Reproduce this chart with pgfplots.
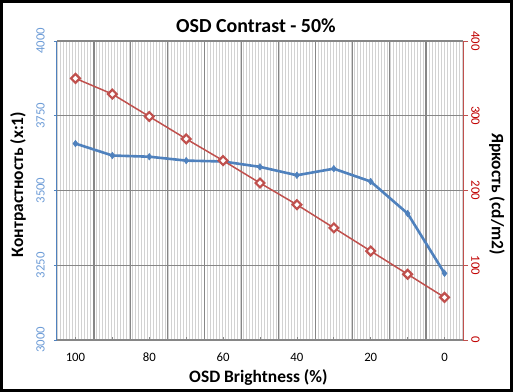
\documentclass[border=0pt]{standalone}
\usepackage{pgfplots}
\pgfplotsset{compat=1.18}
\usepackage{fontspec}
\setmainfont{Carlito}
\usetikzlibrary{patterns.meta,calc}
\definecolor{cblue}{HTML}{4F81BD}
\definecolor{cred}{HTML}{C0504D}
\definecolor{lblue}{HTML}{6C9BD6}
\definecolor{lred}{HTML}{C00000}
\definecolor{gridgray}{HTML}{868686}
\definecolor{hatch}{HTML}{D2D2D2}

\pgfplotstableread{
x contrast
100 3657
90 3617
80 3613
70 3600
60 3597
50 3579
40 3551
30 3573
20 3530
10 3423
0 3223
}\contrasttable

\pgfplotstableread{
x lum
100 350
90 329
80 299
70 269
60 240
50 210
40 181
30 150
20 119
10 88
0 57
}\lumtable

\begin{document}
\begin{tikzpicture}
\pgfplotsset{
  common/.style={
    scale only axis, width=406bp, height=299bp,
    x dir=reverse, xmin=-5, xmax=105,
    /pgf/number format/assume math mode=true,
    /pgf/number format/1000 sep={},
    tick label style={font=\fontsize{12.8}{14}\selectfont},
    label style={font=\fontsize{17.5}{20}\selectfont\bfseries},
  }
}
\begin{axis}[common, name=ax1,
  axis background/.style={pattern={Lines[angle=90,distance=3bp,line width=0.9bp]}, pattern color=hatch},
  ymin=3000, ymax=4000, ytick={3000,3250,...,4000},
  xtick={0,10,...,100}, xticklabels={0,,20,,40,,60,,80,,100},
  xticklabel style={anchor=center, yshift=-17.5bp, text=black},
  extra x ticks={5,15,...,95}, extra x tick labels={},
  extra x tick style={grid=major, major tick length=0pt},
  ymajorgrids, grid style={gridgray, line width=1.2bp},
  axis y line*=left, axis x line*=bottom,
  x axis line style={-, gridgray, line width=1.2bp},
  y axis line style={-, cblue, line width=1bp},
  xtick style={gridgray, line width=0.8bp},
  ytick style={cblue, line width=0.8bp},
  major tick length=3bp,
  ytick align=outside, xtick align=inside,
  yticklabel style={xshift=-13.5bp, rotate=90, anchor=center, text=lblue},
  title={OSD Contrast - 50\%},
  every axis title/.style={at={(axis description cs:0.49,1)}, anchor=base, yshift=8bp, font=\fontsize{20}{24}\selectfont\bfseries},
  xlabel={OSD Brightness (\%)},
  xlabel style={at={(axis description cs:0.496,-0.127)}, anchor=center},
  ylabel={Контрастность (x:1)},
  ylabel style={at={(axis description cs:-0.096,0.52)}, anchor=center, rotate=0},
]
\addplot[cblue, line width=2.6bp, mark=diamond*, mark size=3.3bp, mark options={fill=cblue, line width=0.5bp}] table[x=x, y=contrast] {\contrasttable};
\end{axis}
\begin{axis}[common,
  axis x line=none, axis y line*=right,
  ymin=0, ymax=400, ytick={0,100,...,400},
  y axis line style={-, cred, line width=1bp},
  ytick style={cred, line width=0.8bp},
  major tick length=5bp, ytick align=outside,
  yticklabel style={xshift=7.5bp, rotate=-90, anchor=center, text=lred},
  ylabel={Яркость (cd/m2)},
  ylabel style={at={(axis description cs:1.0837,0.488)}, anchor=center, rotate=180},
]
\addplot[cred, line width=1.5bp, mark=square*, mark size=3.1bp, mark options={rotate=45, fill=white, draw=cred, line width=2.2bp}] table[x=x, y=lum] {\lumtable};
\end{axis}
\draw[line width=3bp, black] ($(ax1.south west)+(-55.5bp,-50.5bp)$) rectangle ($(ax1.south west)+(454.5bp,338.5bp)$);
\end{tikzpicture}
\end{document}
